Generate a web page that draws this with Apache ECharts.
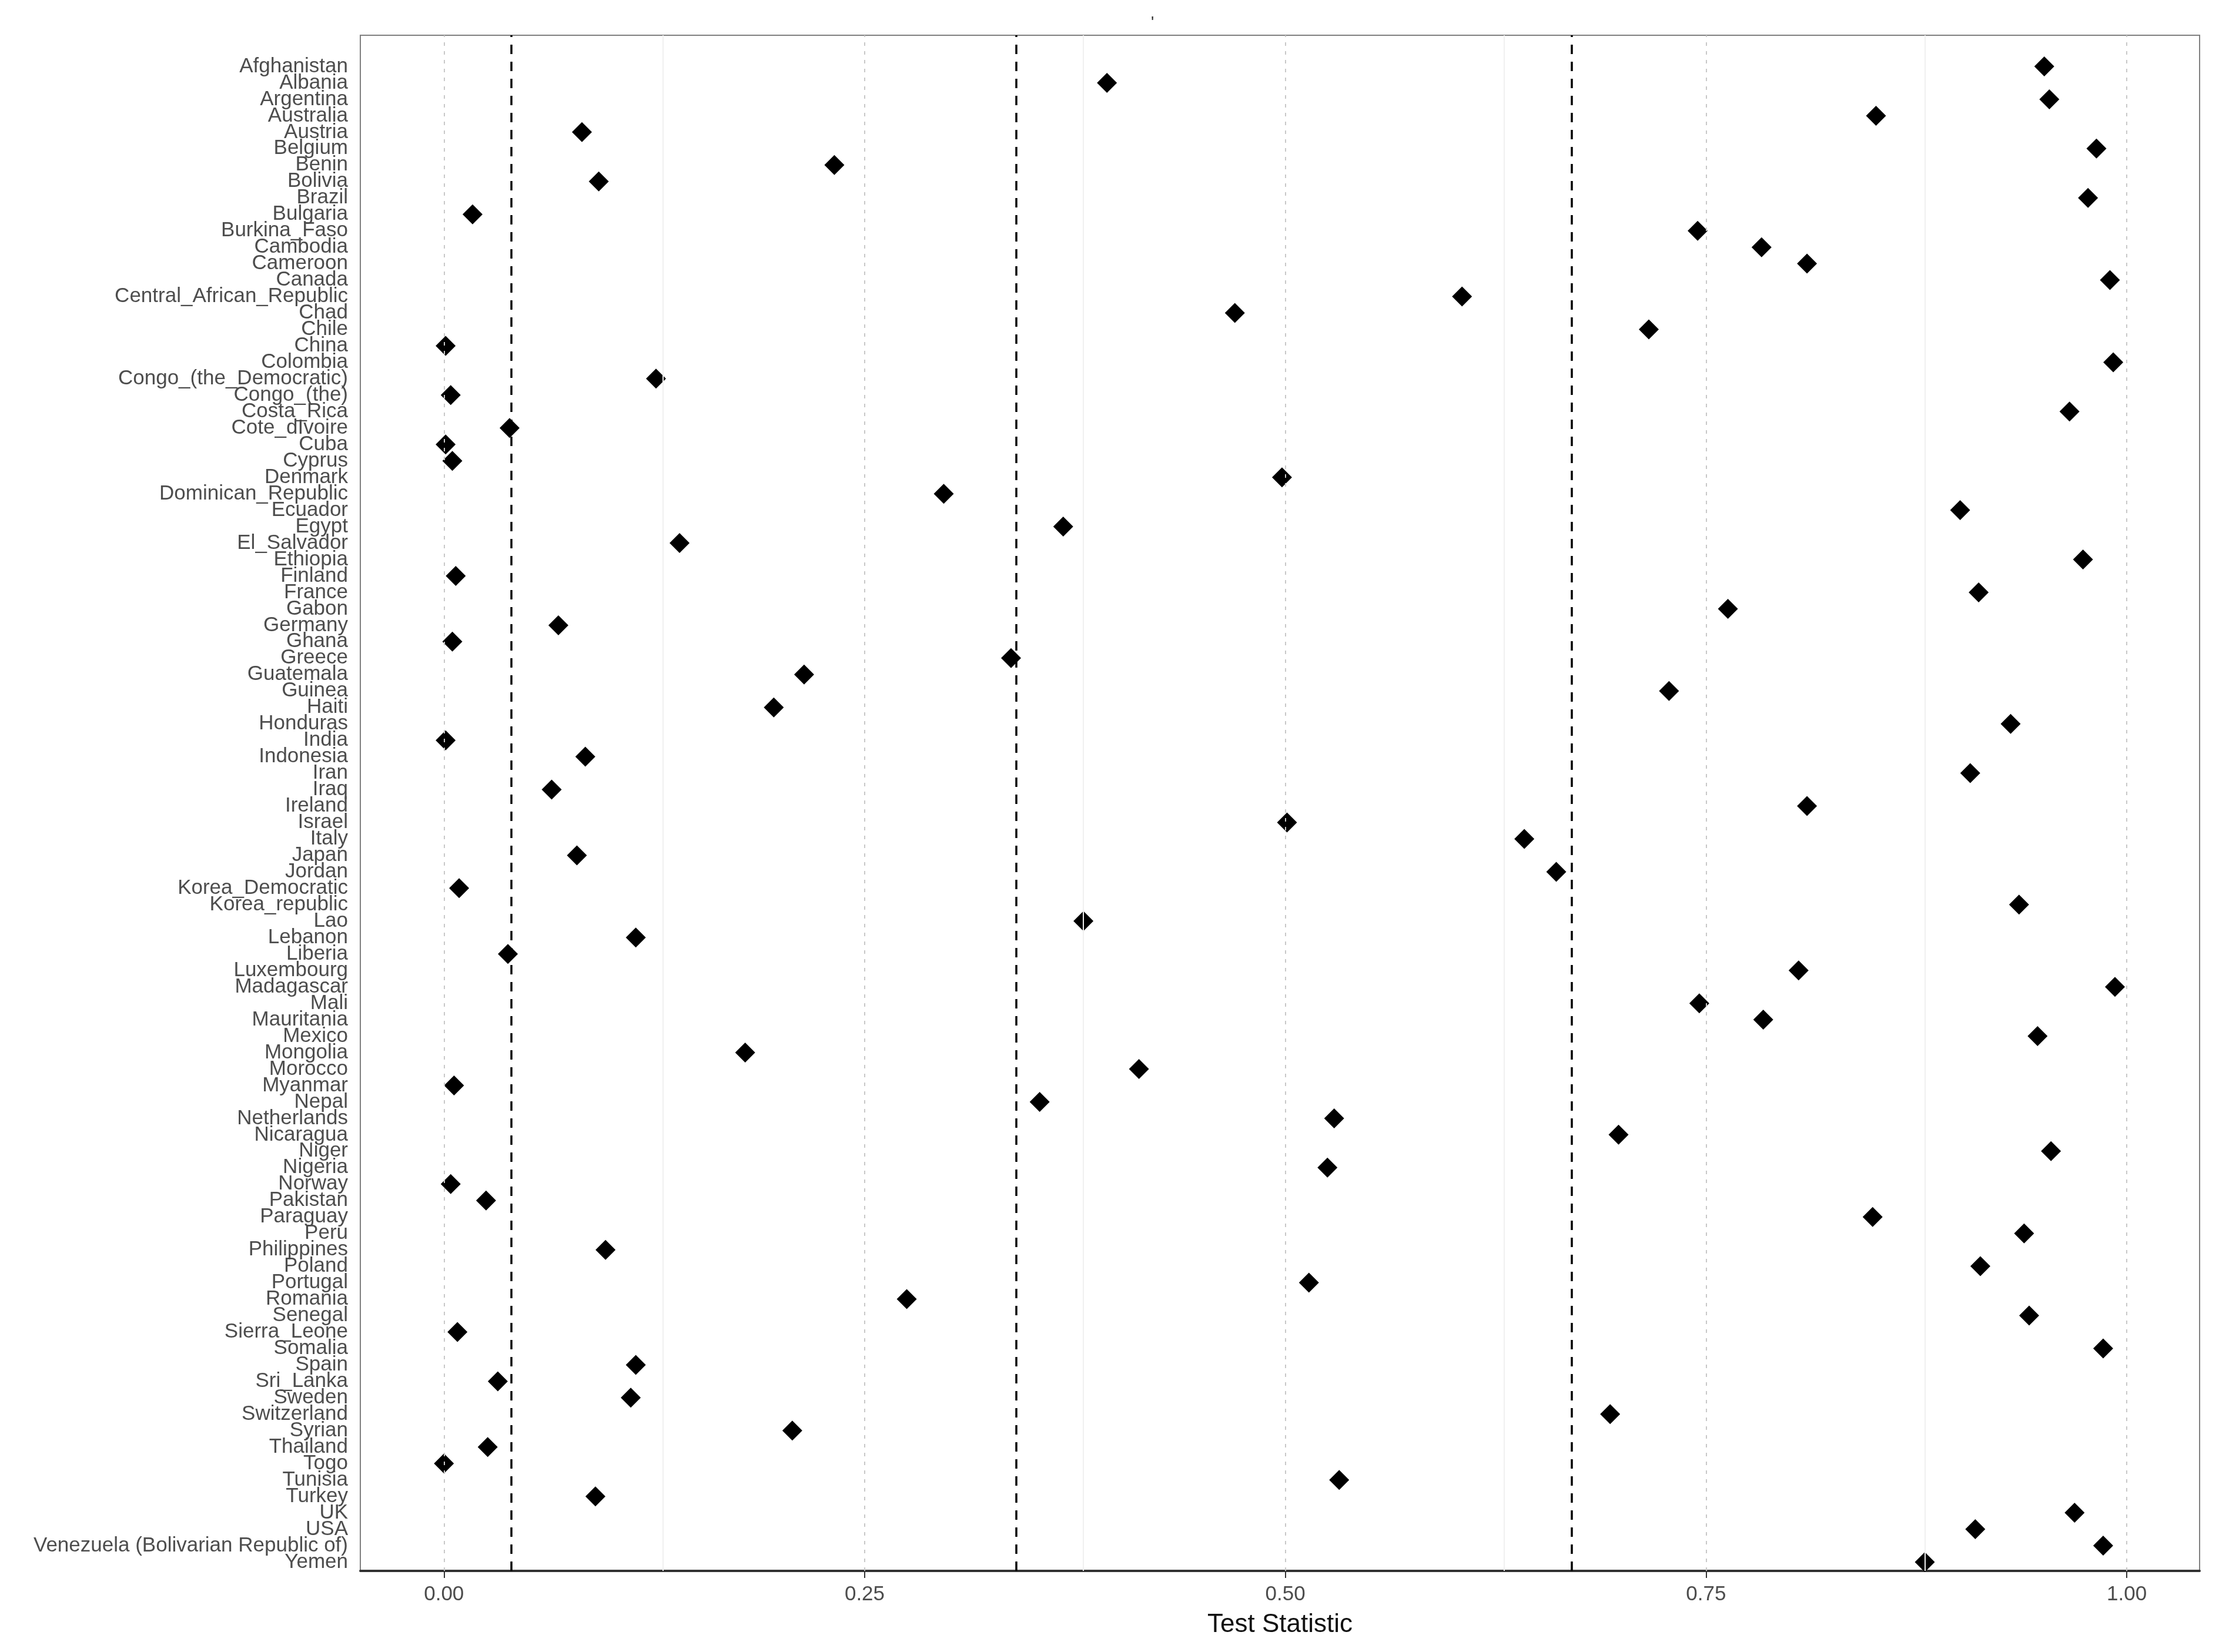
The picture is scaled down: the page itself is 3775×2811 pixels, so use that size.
<!DOCTYPE html>
<html>
<head>
<meta charset="utf-8">
<title>Test Statistic</title>
<script src="https://cdn.jsdelivr.net/npm/echarts@6/dist/echarts.min.js"></script>
<style>
  html, body { margin: 0; padding: 0; background: #fff; }
  #chart { width: 3775px; height: 2811px; }
</style>
</head>
<body>
<div id="chart"></div>
<script>
  // countries, top to bottom
  var countries = ['Afghanistan', 'Albania', 'Argentina', 'Australia', 'Austria', 'Belgium', 'Benin', 'Bolivia',
    'Brazil', 'Bulgaria', 'Burkina_Faso', 'Cambodia', 'Cameroon', 'Canada', 'Central_African_Republic', 'Chad',
    'Chile', 'China', 'Colombia', 'Congo_(the_Democratic)', 'Congo_(the)', 'Costa_Rica', 'Cote_dIvoire', 'Cuba',
    'Cyprus', 'Denmark', 'Dominican_Republic', 'Ecuador', 'Egypt', 'El_Salvador', 'Ethiopia', 'Finland',
    'France', 'Gabon', 'Germany', 'Ghana', 'Greece', 'Guatemala', 'Guinea', 'Haiti',
    'Honduras', 'India', 'Indonesia', 'Iran', 'Iraq', 'Ireland', 'Israel', 'Italy',
    'Japan', 'Jordan', 'Korea_Democratic', 'Korea_republic', 'Lao', 'Lebanon', 'Liberia', 'Luxembourg',
    'Madagascar', 'Mali', 'Mauritania', 'Mexico', 'Mongolia', 'Morocco', 'Myanmar', 'Nepal',
    'Netherlands', 'Nicaragua', 'Niger', 'Nigeria', 'Norway', 'Pakistan', 'Paraguay', 'Peru',
    'Philippines', 'Poland', 'Portugal', 'Romania', 'Senegal', 'Sierra_Leone', 'Somalia', 'Spain',
    'Sri_Lanka', 'Sweden', 'Switzerland', 'Syrian', 'Thailand', 'Togo', 'Tunisia', 'Turkey',
    'UK', 'USA', 'Venezuela (Bolivarian Republic of)', 'Yemen'];

  var testStatistic = [0.951, 0.394, 0.954, 0.851, 0.082, 0.982, 0.232, 0.092,
    0.977, 0.017, 0.745, 0.783, 0.810, 0.990, 0.605, 0.470,
    0.716, 0.001, 0.992, 0.126, 0.004, 0.966, 0.039, 0.001,
    0.005, 0.498, 0.297, 0.901, 0.368, 0.140, 0.974, 0.007,
    0.912, 0.763, 0.068, 0.005, 0.337, 0.214, 0.728, 0.196,
    0.931, 0.001, 0.084, 0.907, 0.064, 0.810, 0.501, 0.642,
    0.079, 0.661, 0.009, 0.936, 0.380, 0.114, 0.038, 0.805,
    0.993, 0.746, 0.784, 0.947, 0.179, 0.413, 0.006, 0.354,
    0.529, 0.698, 0.955, 0.525, 0.004, 0.025, 0.849, 0.939,
    0.096, 0.913, 0.514, 0.275, 0.942, 0.008, 0.986, 0.114,
    0.032, 0.111, 0.693, 0.207, 0.026, 0.000, 0.532, 0.090,
    0.969, 0.910, 0.986, 0.880];

  var xTicks = [0, 0.25, 0.5, 0.75, 1];
  var xMinorGrid = [0.125, 0.375, 0.625, 0.875];
  var refLines = [0.042, 0.342, 0.666];

  var FONT = "'Liberation Sans', Arial, sans-serif";
  var X_MIN = -0.0497, X_MAX = 1.0433;

  var myChart = echarts.init(document.getElementById('chart'));
  myChart.setOption({
    animation: false,
    backgroundColor: '#fff',
    title: {
      text: "'",
      left: 1953,
      top: 20,
      textStyle: { fontFamily: FONT, fontSize: 28, fontWeight: 'normal', color: '#333' }
    },
    grid: [
      // panel: frame, grid lines, reference lines, x axis
      { left: 613, right: 33, top: 60, bottom: 138, show: true, borderColor: '#808080', borderWidth: 2 },
      // rows: one band per country
      { left: 613, right: 33, top: 99, bottom: 139 }
    ],
    xAxis: [
      {
        gridIndex: 0,
        type: 'value',
        min: X_MIN,
        max: X_MAX,
        name: 'Test Statistic',
        nameLocation: 'middle',
        nameGap: 70,
        nameTextStyle: { fontFamily: FONT, fontSize: 44, color: '#111' },
        axisLine: { show: true, onZero: false, lineStyle: { color: '#333', width: 4 } },
        axisTick: { show: true, length: 12, customValues: xTicks, lineStyle: { color: '#333', width: 2 } },
        axisLabel: {
          customValues: xTicks,
          margin: 23,
          fontFamily: FONT,
          fontSize: 35,
          color: '#4d4d4d',
          showMinLabel: true,
          showMaxLabel: true,
          formatter: function (v) { return v.toFixed(2); }
        },
        splitLine: { show: false }
      },
      {
        gridIndex: 1,
        type: 'value',
        min: X_MIN,
        max: X_MAX,
        show: false
      }
    ],
    yAxis: [
      { gridIndex: 0, type: 'value', min: 0, max: 1, show: false },
      {
        gridIndex: 1,
        type: 'category',
        inverse: true,
        data: countries,
        boundaryGap: true,
        axisLine: { show: false },
        axisTick: { show: false },
        axisLabel: {
          interval: 0,
          margin: 21,
          padding: [9, 0, 0, 0],
          fontFamily: FONT,
          fontSize: 35,
          color: '#4d4d4d'
        },
        splitLine: { show: false }
      }
    ],
    series: [
      {
        name: 'grid',
        type: 'scatter',
        xAxisIndex: 0,
        yAxisIndex: 0,
        data: [],
        z: 1,
        markLine: {
          silent: true,
          symbol: 'none',
          label: { show: false },
          data: xMinorGrid.map(function (v) {
            return { xAxis: v, lineStyle: { color: '#f0f0f0', width: 2, type: 'solid' } };
          }).concat(xTicks.map(function (v) {
            return { xAxis: v, lineStyle: { color: '#c8c8c8', width: 2, type: [6, 9] } };
          }))
        }
      },
      {
        name: 'ref',
        type: 'scatter',
        xAxisIndex: 0,
        yAxisIndex: 0,
        data: [],
        z: 2,
        markLine: {
          silent: true,
          symbol: 'none',
          label: { show: false },
          lineStyle: { color: '#000', width: 3.5, type: [16, 13] },
          data: refLines.map(function (v) { return { xAxis: v }; })
        }
      },
      {
        name: 'Test Statistic',
        type: 'scatter',
        xAxisIndex: 1,
        yAxisIndex: 1,
        z: 3,
        symbol: 'diamond',
        symbolSize: 34,
        itemStyle: { color: '#000', opacity: 1 },
        data: testStatistic.map(function (v, i) { return [v, countries[i]]; })
      }
    ]
  });
</script>
</body>
</html>
